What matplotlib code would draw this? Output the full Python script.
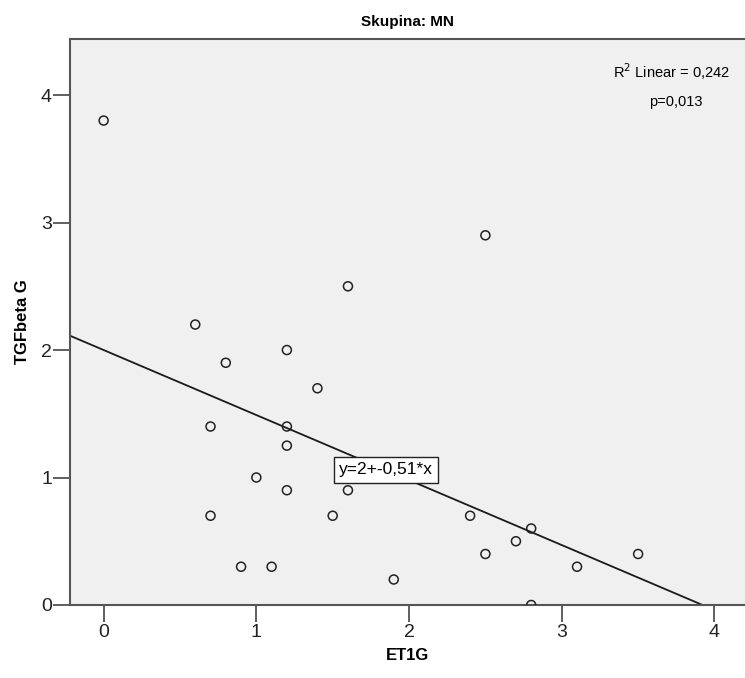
import matplotlib
matplotlib.use("Agg")
import matplotlib.pyplot as plt
import numpy as np

plt.rcParams['font.family'] = ['Liberation Sans', 'DejaVu Sans']

et1g = [0.0, 2.5, 1.6, 0.6, 1.2, 0.8, 1.4, 0.7, 1.2, 1.2, 1.0, 1.2, 1.6,
        0.7, 1.5, 2.4, 2.8, 2.7, 2.5, 3.5, 0.9, 1.1, 3.1, 1.9, 2.8]
tgfbeta_g = [3.8, 2.9, 2.5, 2.2, 2.0, 1.9, 1.7, 1.4, 1.4, 1.25, 1.0, 0.9, 0.9,
             0.7, 0.7, 0.7, 0.6, 0.5, 0.4, 0.4, 0.3, 0.3, 0.3, 0.2, 0.0]
intercept = 2.0
slope = -0.51

fig = plt.figure(figsize=(7.45, 6.78), dpi=100)
ax = fig.add_axes([0.094, 0.1077, 0.906, 0.8348])
ax.set_facecolor('#f0f0f0')

xmin, xmax = -0.22, 4.20
ax.set_xlim(xmin, xmax)
ax.set_ylim(0, 4.44)

ax.scatter(et1g, tgfbeta_g, s=42, facecolors='none', edgecolors='#222222',
           linewidths=1.1, zorder=3)

xs = np.array([xmin, -intercept / slope])
ax.plot(xs, intercept + slope * xs, color='#1a1a1a', lw=1.3, zorder=2)

# equation label sits on the fit line
ax.text(1.85, 1.06, 'y=2+-0,51*x', fontsize=12.5, ha='center', va='center',
        bbox=dict(facecolor='white', edgecolor='#222222', boxstyle='square,pad=0.3', lw=1),
        zorder=4)

ax.text(0.978, 0.942, r'R$^2$ Linear = 0,242', transform=ax.transAxes,
        fontsize=10.5, ha='right', va='center')
ax.text(0.898, 0.889, 'p=0,013', transform=ax.transAxes,
        fontsize=10.5, ha='center', va='center')

ax.set_xticks([0, 1, 2, 3, 4])
ax.set_yticks([0, 1, 2, 3, 4])
ax.tick_params(axis='both', labelsize=14, length=12, width=1.2, color='#444444',
               labelcolor='#222222')
ax.tick_params(axis='x', pad=2)
ax.tick_params(axis='y', pad=1)

for side in ['left', 'top', 'bottom']:
    ax.spines[side].set_color('#555555')
    ax.spines[side].set_linewidth(1.5)
ax.spines['right'].set_visible(False)

ax.set_xlabel('ET1G', fontsize=12, fontweight='bold', labelpad=5)
ax.set_ylabel('TGFbeta G', fontsize=12, fontweight='bold', labelpad=8)
ax.set_title('Skupina: MN', fontsize=11, fontweight='bold', pad=9)

fig.savefig('out.png', dpi=100, facecolor='white')
